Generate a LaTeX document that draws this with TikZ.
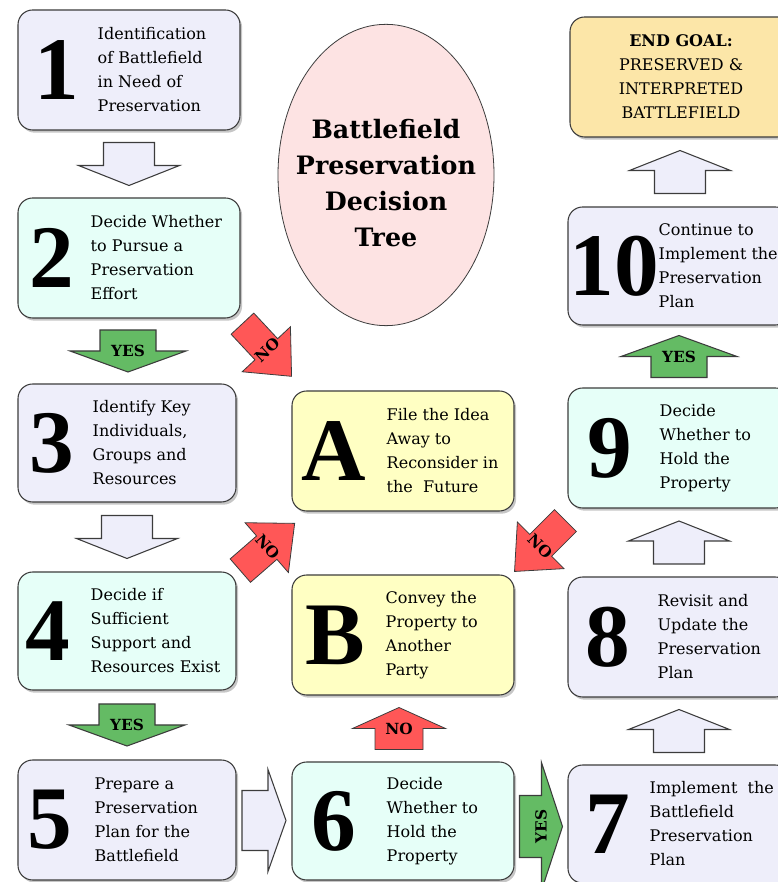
\documentclass[tikz,border=0pt]{standalone}
\usepackage{fontspec}
\setmainfont{DejaVu Serif}
\newfontfamily\bignumfont{Liberation Serif}
\usetikzlibrary{shapes}
\usetikzlibrary{calc,positioning,shadows}

\definecolor{lavender}{RGB}{238,238,250}
\definecolor{mint}{RGB}{230,255,248}
\definecolor{paleyellow}{RGB}{255,255,195}
\definecolor{goalorange}{RGB}{252,230,168}
\definecolor{titlepink}{RGB}{253,227,227}
\definecolor{nored}{RGB}{255,87,87}
\definecolor{yesgreen}{RGB}{100,187,100}
\definecolor{edgegrey}{RGB}{60,60,60}

% sizes of the block arrows, in px
\tikzset{arrlen/.store in=\arrlen, arrshaft/.store in=\arrshaft,
	arrhead/.store in=\arrhead, arrtip/.store in=\arrtip}

% name, style, centre, direction, text angle, text
\newcommand{\blockarrow}[6]{%
	\begin{scope}[shift={#3}, rotate=#4]
		\filldraw[#2] ({-\arrlen/2},{-\arrshaft/2}) -- ({\arrlen/2-\arrtip},{-\arrshaft/2})
		-- ({\arrlen/2-\arrtip},{-\arrhead/2}) -- ({\arrlen/2},0)
		-- ({\arrlen/2-\arrtip},{\arrhead/2}) -- ({\arrlen/2-\arrtip},{\arrshaft/2})
		-- ({-\arrlen/2},{\arrshaft/2}) -- cycle;
	\end{scope}
	\node[arrlabel, rotate=#5] (#1) at #3 {#6};
}

\begin{document}
\begin{tikzpicture}[x=0.75pt, y=0.75pt]
	\tikzstyle{box}=[draw=edgegrey, line width=0.8pt, rounded corners=11pt,
	minimum width=166.5pt, minimum height=90pt,
	drop shadow={shadow xshift=1.6pt, shadow yshift=-2pt, opacity=.45}]
	\tikzstyle{actbox}=[box, fill=lavender]
	\tikzstyle{decbox}=[box, fill=mint]
	\tikzstyle{altbox}=[box, fill=paleyellow]
	\tikzstyle{goalbox}=[box, fill=goalorange]
	\tikzstyle{num}=[inner sep=0pt, font=\bignumfont\fontsize{67}{67}\selectfont\bfseries]
	\tikzstyle{desc}=[anchor=west, inner sep=0pt, align=left, font=\fontsize{12}{18}\selectfont]
	\tikzstyle{arrlabel}=[inner sep=0pt, font=\fontsize{11.5}{12}\selectfont\bfseries]
	\tikzstyle{whitearrow}=[fill=lavender, draw=edgegrey, line width=0.8pt,
	arrlen=43, arrshaft=51, arrhead=101, arrtip=20]
	\tikzstyle{yesarrow}=[fill=yesgreen, draw=edgegrey, line width=0.8pt,
	arrlen=42, arrshaft=56, arrhead=116, arrtip=21]
	\tikzstyle{noarrow}=[fill=nored, draw=edgegrey, line width=0.6pt,
	arrlen=42, arrshaft=48, arrhead=93, arrtip=21]
	\tikzstyle{diagno}=[noarrow, arrlen=72, arrshaft=31, arrhead=66, arrtip=37]

	\useasboundingbox (0,0) rectangle (778,882);
	\clip (0,0) rectangle (778,882);

	% title
	\node[ellipse, draw=edgegrey, line width=0.6pt, fill=titlepink,
	minimum width=162pt, minimum height=226pt, inner sep=0pt] (title) at (386,707) {};
	\node[align=center, inner sep=0pt, font=\fontsize{19}{27}\selectfont\bfseries]
	(titletext) at ([yshift=-6pt]title.center) {Battlefield\\Preservation\\Decision\\Tree};

	% left column
	\node[actbox] (b1) at (129,812) {};
	\node[decbox] (b2) at (129,624) {};
	\node[actbox, minimum width=163.5pt, minimum height=88.5pt] (b3) at (127,439) {};
	\node[decbox, minimum width=163.5pt, minimum height=88.5pt] (b4) at (127,251) {};
	\node[actbox, minimum width=163.5pt] (b5) at (127,62) {};
	% middle column
	\node[altbox] (bA) at (403,431) {};
	\node[altbox] (bB) at (403,247) {};
	\node[decbox, minimum height=88.5pt] (b6) at (403,61) {};
	% right column
	\node[goalbox] (bEnd) at (681,805) {};
	\node[actbox, minimum height=88.5pt] (b10) at (679,616) {};
	\node[decbox] (b9) at (679,434) {};
	\node[actbox] (b8) at (679,245) {};
	\node[actbox, minimum height=88.5pt] (b7) at (679,58) {};

	\node[num] (n1) at ([xshift=29.6pt]b1.west) {1};
	\node[num] (n2) at ([xshift=25.5pt]b2.west) {2};
	\node[num] (n3) at ([xshift=25.5pt]b3.west) {3};
	\node[num] (n4) at ([xshift=22.5pt]b4.west) {4};
	\node[num] (n5) at ([xshift=24pt]b5.west) {5};
	\node[num] (n6) at ([xshift=32pt]b6.west) {6};
	\node[num] (n7) at ([xshift=30pt]b7.west) {7};
	\node[num] (n8) at ([xshift=30pt]b8.west) {8};
	\node[num] (n9) at ([xshift=31.5pt]b9.west) {9};
	\node[num] (n10) at ([xshift=35pt]b10.west) {10};
	\node[num] (nA) at ([xshift=31.5pt]bA.west) {A};
	\node[num] (nB) at ([xshift=33pt]bB.west) {B};

	\node[desc] (t1) at ([xshift=60pt]b1.west) {Identification\\of Battlefield\\in Need of\\Preservation};
	\node[desc] (t2) at ([xshift=54.75pt]b2.west) {Decide Whether\\to Pursue a\\Preservation\\Effort};
	\node[desc] (t3) at ([xshift=56.25pt]b3.west) {Identify Key\\Individuals,\\Groups and\\Resources};
	\node[desc] (t4) at ([xshift=54.75pt]b4.west) {Decide if\\Sufficient\\Support and\\Resources Exist};
	\node[desc] (t5) at ([xshift=57.75pt]b5.west) {Prepare a\\Preservation\\Plan for the\\Battlefield};
	\node[desc] (t6) at ([xshift=71.25pt]b6.west) {Decide\\Whether to\\Hold the\\Property};
	\node[desc] (t7) at ([xshift=61.5pt]b7.west) {Implement\ \ the\\Battlefield\\Preservation\\Plan};
	\node[desc] (t8) at ([xshift=67.5pt]b8.west) {Revisit and\\Update the\\Preservation\\Plan};
	\node[desc] (t9) at ([xshift=69pt]b9.west) {Decide\\Whether to\\Hold the\\Property};
	\node[desc] (t10) at ([xshift=68.25pt]b10.west) {Continue to\\Implement the\\Preservation\\Plan};
	\node[desc] (tA) at ([xshift=71.25pt]bA.west) {File the Idea\\Away to\\Reconsider in\\the\ \ Future};
	\node[desc] (tB) at ([xshift=70.5pt]bB.west) {Convey the\\Property to\\Another\\Party};
	\node[desc, anchor=center, align=center] (tEnd) at (bEnd) {\textbf{END GOAL:}\\PRESERVED \&\\INTERPRETED\\BATTLEFIELD};

	% arrows between the boxes
	\blockarrow{a12}{whitearrow}{($(b1.south)!.5!(b2.north)$)}{-90}{0}{}
	\blockarrow{a23}{yesarrow}{($(b2.south)!.5!(b3.north)$)}{-90}{0}{YES}
	\blockarrow{a34}{whitearrow}{($(b3.south)!.5!(b4.north)$)}{-90}{0}{}
	\blockarrow{a45}{yesarrow}{($(b4.south)!.5!(b5.north)$)}{-90}{0}{YES}
	\blockarrow{a56}{whitearrow, arrshaft=60, arrhead=102, arrtip=18, arrlen=44}{($(b5.east)!.5!(b6.west)$)}{0}{0}{}
	\blockarrow{a67}{yesarrow, arrshaft=62, arrhead=128, arrlen=43}{($(b6.east)!.5!(b7.west)+(0,-4)$)}{0}{90}{YES}
	\blockarrow{a6B}{noarrow}{($(b6.north)!.5!(bB.south)+(-4,0)$)}{90}{0}{NO}
	\blockarrow{a78}{whitearrow}{($(b7.north)!.5!(b8.south)$)}{90}{0}{}
	\blockarrow{a89}{whitearrow}{($(b8.north)!.5!(b9.south)$)}{90}{0}{}
	\blockarrow{a910}{yesarrow}{($(b9.north)!.5!(b10.south)$)}{90}{0}{YES}
	\blockarrow{a10E}{whitearrow}{($(b10.north)!.5!(bEnd.south)$)}{90}{0}{}
	% the NO branches
	\blockarrow{a2A}{diagno}{(267,532)}{-47}{43}{NO}
	\blockarrow{a4A}{diagno}{(267.5,335)}{41}{-49}{NO}
	\blockarrow{a9B}{diagno}{(540,336)}{-135}{-45}{NO}
\end{tikzpicture}
\end{document}
